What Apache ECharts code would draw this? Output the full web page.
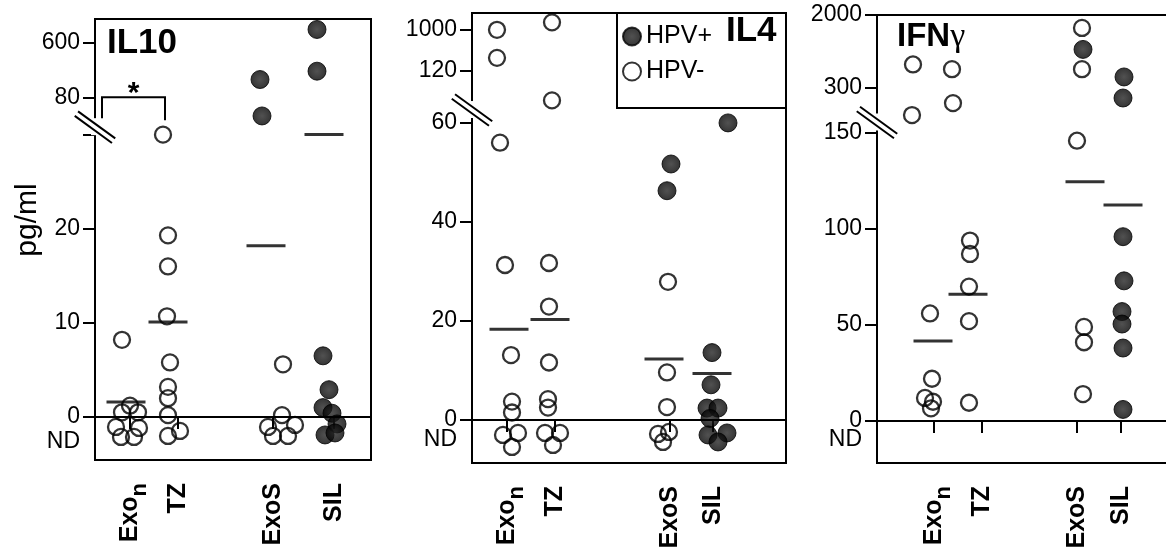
<!DOCTYPE html>
<html><head><meta charset="utf-8">
<script src="https://cdn.jsdelivr.net/npm/echarts@6/dist/echarts.min.js"></script>
<style>html,body{margin:0;padding:0;background:#fff}#c{width:1166px;height:557px}</style>
</head><body><div id="c"></div>
<script>
// ================= DATA (pg/ml; 'ND' = not detected) =================
const ND = 'ND';
const groups = ['Exon', 'TZ', 'ExoS', 'SIL'];

// IL10
const IL10_ticks = [0, 10, 20, 30, 80, 600];
const IL10_tickLabels = ['0', '10', '20', '', '80', '600'];
const IL10_Exon_neg = [8.2, 1.2, 0.5, 0.5, ND, ND, ND, ND];
const IL10_TZ_neg = [30, 19.3, 16, 10.7, 5.8, 3.2, 2.0, 0.2, ND, ND];
const IL10_ExoS_neg = [5.6, 0.2, ND, ND, ND, ND];
const IL10_ExoS_pos = [250, 55];
const IL10_SIL_pos = [730, 330, 6.5, 2.9, 1.0, 0.4, ND, ND, ND];
const IL10_means = [1.6, 10.1, 18.2, 30.2];

// IL4
const IL4_ticks = [0, 20, 40, 60, 120, 1000];
const IL4_tickLabels = ['0', '20', '40', '60', '120', '1000'];
const IL4_Exon_neg = [1000, 400, 56, 31.3, 13.1, 3.7, 1.5, ND, ND, ND];
const IL4_TZ_neg = [1160, 86, 31.7, 22.9, 11.6, 4.2, 2.5, ND, ND, ND];
const IL4_ExoS_neg = [27.9, 9.6, 2.6, ND, ND, ND];
const IL4_ExoS_pos = [51.7, 46.3];
const IL4_SIL_pos = [60, 13.6, 7.1, 2.4, 2.4, 0.3, ND, ND, ND];
const IL4_means = [18.3, 20.3, 12.3, 9.4];

// IFN-gamma
const IFN_ticks = [0, 50, 100, 150, 300, 2000];
const IFN_tickLabels = ['0', '50', '100', '150', '300', '2000'];
const IFN_Exon_neg = [850, 210, 56, 22, 12, 10, 6.6];
const IFN_TZ_neg = [740, 250, 94, 87, 70, 52, 9.5];
const IFN_ExoS_neg = [1700, 740, 146, 49, 41, 14];
const IFN_ExoS_pos = [1200];
const IFN_SIL_pos = [560, 267, 96, 73, 57, 50.5, 38, 6];
const IFN_means = [41.7, 66, 124.6, 112.5];

// ================= LAYOUT (beeswarm offsets in px: [dx, dy]) =================
const IL10_Exon_neg_off = [[-8,0],[0,0],[-8,0],[8,0],[-14,-5],[9,-4],[-9,5],[4,5]];
const IL10_TZ_neg_off = [[-15,0],[-10,0],[-10,0],[-11,0],[-8,0],[-10,0],[-10,0],[-10,0],[-10,4],[2,-1]];
const IL10_ExoS_neg_off = [[10,0],[9,0],[-5,-5],[22,-7],[0,4],[15,4]];
const IL10_ExoS_pos_off = [[-13,0],[-11,0]];
const IL10_SIL_pos_off = [[-17,0],[-17,0],[-11,0],[-5,0],[-11,0],[-2,0],[3,-8],[-9,3],[1,1]];
const IL10_mean_dx = [-4, -10, -7, -10];

const IL4_Exon_neg_off = [[-10,0],[-10,0],[-7,0],[-2,0],[4,0],[5,0],[5,0],[-4,-4],[11,-6],[5,8]];
const IL4_TZ_neg_off = [[-3,0],[-3,0],[-6,0],[-6,0],[-6,0],[-7,0],[-7,0],[-10,-6],[5,-6],[-2,6]];
const IL4_ExoS_neg_off = [[-2,0],[-3,0],[-3,0],[-12,-5],[-1,-7],[-7,3]];
const IL4_ExoS_pos_off = [[1,0],[-3,0]];
const IL4_SIL_pos_off = [[15,0],[-1,0],[-2,0],[-6,0],[5,0],[-3,0],[-5,-4],[14,-6],[5,3]];
const IL4_mean_dx = [2, -5, -6, -1];

const IFN_Exon_neg_off = [[-21,0],[-22,0],[-4,0],[-2,0],[-9,0],[-1,0],[-3,0]];
const IFN_TZ_neg_off = [[-30,0],[-29,0],[-12,0],[-12,0],[-13,0],[-13,0],[-13,0]];
const IFN_ExoS_neg_off = [[5,0],[5,0],[0,0],[7,0],[7,0],[6,0]];
const IFN_ExoS_pos_off = [[6,0]];
const IFN_SIL_pos_off = [[3,0],[2,0],[2,0],[3,0],[1,0],[1,0],[2,0],[2,0]];
const IFN_mean_dx = [-1, -14, 8, 2];

const FONT = '"Liberation Sans", Arial, Helvetica, sans-serif';

const panels = [
  { grid: {left: 95, top: 19, width: 276, height: 441}, cats: [35, 83, 178, 239],
    yMin: -4.6, yMax: 42.57, anchors: [[30, 30.2], [80, 34.2], [600, 40]], nd: -1.6, ndLabel: -2.68, breakD: 31.0,
    ticks: IL10_ticks, tickLabels: IL10_tickLabels,
    neg: [[IL10_Exon_neg, IL10_Exon_neg_off], [IL10_TZ_neg, IL10_TZ_neg_off], [IL10_ExoS_neg, IL10_ExoS_neg_off], [[], []]],
    pos: [[[], []], [[], []], [IL10_ExoS_pos, IL10_ExoS_pos_off], [IL10_SIL_pos, IL10_SIL_pos_off]],
    means: IL10_means, meanDx: IL10_mean_dx, bracket: true },
  { grid: {left: 472, top: 13, width: 314, height: 450}, cats: [35, 83, 198, 241],
    yMin: -8.7, yMax: 82.2, anchors: [[60, 60], [120, 70.5], [1000, 78.8]], nd: -3.84, ndLabel: -4.0, breakD: 62.6,
    ticks: IL4_ticks, tickLabels: IL4_tickLabels,
    neg: [[IL4_Exon_neg, IL4_Exon_neg_off], [IL4_TZ_neg, IL4_TZ_neg_off], [IL4_ExoS_neg, IL4_ExoS_neg_off], [[], []]],
    pos: [[[], []], [[], []], [IL4_ExoS_pos, IL4_ExoS_pos_off], [IL4_SIL_pos, IL4_SIL_pos_off]],
    means: IL4_means, meanDx: IL4_mean_dx },
  { grid: {left: 877, top: 15, width: 300, height: 448}, cats: [57, 105, 200, 244],
    yMin: -21.9, yMax: 211.5, anchors: [[150, 150], [300, 173.4], [2000, 211.5]], nd: -10, ndLabel: -9.9, breakD: 155.5,
    ticks: IFN_ticks, tickLabels: IFN_tickLabels,
    neg: [[IFN_Exon_neg, IFN_Exon_neg_off], [IFN_TZ_neg, IFN_TZ_neg_off], [IFN_ExoS_neg, IFN_ExoS_neg_off], [[], []]],
    pos: [[[], []], [[], []], [IFN_ExoS_pos, IFN_ExoS_pos_off], [IFN_SIL_pos, IFN_SIL_pos_off]],
    means: IFN_means, meanDx: IFN_mean_dx }
];

// broken-axis scale: linear below first anchor, piecewise linear above
function makeScale(anchors, ndPos) {
  return function (v) {
    if (v === ND) return ndPos;
    if (v <= anchors[0][0]) return v * anchors[0][1] / anchors[0][0];
    for (let i = 1; i < anchors.length; i++) {
      if (v <= anchors[i][0] || i === anchors.length - 1) {
        const [v0, d0] = anchors[i - 1], [v1, d1] = anchors[i];
        return d0 + (v - v0) / (v1 - v0) * (d1 - d0);
      }
    }
  };
}

const openStyle = {color: 'rgba(0,0,0,0)', borderColor: '#000', borderWidth: 2.3};
const filledStyle = {
  color: {type: 'radial', x: 0.5, y: 0.5, r: 0.5, colorStops: [
    {offset: 0, color: '#262626'}, {offset: 0.5, color: '#141414'}, {offset: 1, color: '#000'}]},
  borderColor: '#000', borderWidth: 1
};

const grids = [], xAxes = [], yAxes = [], series = [];

panels.forEach((p, i) => {
  const sc = makeScale(p.anchors, p.nd);
  const ppu = p.grid.height / (p.yMax - p.yMin);
  grids.push(Object.assign({show: true, borderColor: '#000', borderWidth: 2, backgroundColor: 'transparent', outerBoundsMode: 'none', containLabel: false}, p.grid));
  const labelVals = [], labelMap = [];
  p.ticks.forEach((t, k) => { if (p.tickLabels[k] !== '') { labelVals.push(sc(t)); labelMap.push([sc(t), p.tickLabels[k]]); } });
  labelVals.push(p.ndLabel); labelMap.push([p.ndLabel, 'ND']);
  yAxes.push({
    type: 'value', gridIndex: i, min: p.yMin, max: p.yMax,
    axisLine: {show: false}, splitLine: {show: false},
    axisTick: {show: true, customValues: p.ticks.map(sc), length: 12, lineStyle: {color: '#000', width: 2}},
    axisLabel: {show: true, customValues: labelVals, margin: 15, color: '#000', fontSize: 23, fontFamily: FONT,
      formatter: (val) => { const m = labelMap.find(e => Math.abs(e[0] - val) < 1e-4); return m ? m[1] : ''; }}
  });
  xAxes.push({
    type: 'value', gridIndex: i, min: 0, max: p.grid.width,
    axisLine: {show: false}, splitLine: {show: false},
    axisTick: {show: true, customValues: p.cats, length: 12, lineStyle: {color: '#000', width: 2}},
    axisLabel: {show: true, customValues: p.cats, rotate: 90, margin: 23, color: '#000',
      formatter: (val) => { const k = p.cats.findIndex(c => Math.abs(c - val) < 1e-4); if (k < 0) return '';
        return groups[k] === 'Exon' ? '{a|Exo}{b|n}' : '{a|' + groups[k] + '}'; },
      rich: {
        a: {fontSize: 25, fontWeight: 'bold', fontFamily: FONT, color: '#000', lineHeight: 25, verticalAlign: 'top'},
        b: {fontSize: 22, fontWeight: 'bold', fontFamily: FONT, color: '#000', lineHeight: 22, verticalAlign: 'top', padding: [11, 0, 0, 0]}
      }}
  });
  const build = (cols) => {
    const out = [];
    cols.forEach((col, c) => {
      const vals = col[0], offs = col[1];
      vals.forEach((v, j) => out.push([p.cats[c] + offs[j][0], sc(v) - offs[j][1] / ppu]));
    });
    return out;
  };
  series.push({type: 'scatter', name: 'HPV-', xAxisIndex: i, yAxisIndex: i, symbol: 'circle', symbolSize: 16,
    itemStyle: openStyle, data: build(p.neg), z: 3, silent: true});
  series.push({type: 'scatter', name: 'HPV+', xAxisIndex: i, yAxisIndex: i, symbol: 'circle', symbolSize: 18,
    itemStyle: filledStyle, data: build(p.pos), z: 3, silent: true});
  series.push({type: 'scatter', name: 'mean', xAxisIndex: i, yAxisIndex: i, symbol: 'rect', symbolSize: [39, 3],
    itemStyle: {color: '#000'}, data: p.means.map((m, c) => [p.cats[c] + p.meanDx[c], sc(m)]), z: 5, silent: true,
    markLine: {silent: true, symbol: 'none', label: {show: false}, lineStyle: {color: '#000', width: 2, type: 'solid'},
      data: [{yAxis: 0}], animation: false}});
  // axis break mark
  series.push({type: 'custom', xAxisIndex: i, yAxisIndex: i, clip: false, z: 6, silent: true,
    data: [[0, p.breakD]],
    renderItem: (params, api) => {
      const pt = api.coord([api.value(0), api.value(1)]);
      const a = 36 * Math.PI / 180, L = 23, s = 2.8;
      const ux = Math.cos(a), uy = Math.sin(a), nx = -uy, ny = ux;
      const ln = (o) => ({type: 'line', shape: {x1: pt[0] - ux * L + nx * o, y1: pt[1] - uy * L + ny * o,
        x2: pt[0] + ux * L + nx * o, y2: pt[1] + uy * L + ny * o}, style: {stroke: '#000', lineWidth: 2}});
      return {type: 'group', children: [
        {type: 'rect', shape: {x: pt[0] - 4, y: pt[1] - 9, width: 8, height: 17}, style: {fill: '#fff'}},
        ln(-s), ln(s)]};
    }});
  if (p.bracket) {
    series.push({type: 'custom', xAxisIndex: i, yAxisIndex: i, clip: false, z: 6, silent: true,
      data: [[p.cats[0] - 28, p.cats[1] - 13, sc(80)]],
      renderItem: (params, api) => {
        const l = api.coord([api.value(0), api.value(2)]), r = api.coord([api.value(1), api.value(2)]);
        return {type: 'group', children: [
          {type: 'polyline', shape: {points: [[l[0], l[1] + 21], [l[0], l[1]], [r[0], r[1]], [r[0], r[1] + 23]]},
            style: {stroke: '#000', lineWidth: 2, fill: null}},
          {type: 'text', style: {text: '*', x: (l[0] + r[0]) / 2, y: l[1] - 4, font: 'bold 30px ' + FONT,
            fill: '#000', align: 'center', verticalAlign: 'middle'}}]};
      }});
  }
});

const chart = echarts.init(document.getElementById('c'), null, {renderer: 'canvas'});
chart.setOption({
  animation: false,
  backgroundColor: '#fff',
  grid: grids, xAxis: xAxes, yAxis: yAxes, series: series,
  legend: {data: ['HPV+', 'HPV-'], orient: 'vertical', left: 617, top: 19, padding: 5, itemGap: 10,
    itemWidth: 18, itemHeight: 18, selectedMode: false,
    textStyle: {fontSize: 25, fontFamily: FONT, color: '#000', lineHeight: 24}},
  graphic: [
    {type: 'rect', shape: {x: 617, y: 13, width: 169, height: 95}, style: {fill: 'none', stroke: '#000', lineWidth: 2}, z: 10},
    {type: 'text', x: 107, y: 43.5, style: {text: 'IL10', font: 'bold 35px ' + FONT, fill: '#000', verticalAlign: 'middle'}},
    {type: 'text', x: 726, y: 31.5, style: {text: 'IL4', font: 'bold 35px ' + FONT, fill: '#000', verticalAlign: 'middle'}},
    {type: 'text', x: 897, y: 37, style: {text: '{a|IFN}{b|γ}', verticalAlign: 'middle',
      rich: {a: {font: 'bold 33px ' + FONT, fill: '#000'}, b: {font: '34px "Liberation Serif", serif', fill: '#000'}}}},
    {type: 'text', x: 28, y: 220, rotation: Math.PI / 2, style: {text: 'pg/ml', font: '30px ' + FONT, fill: '#000', align: 'center', verticalAlign: 'middle'}}
  ]
});
</script></body></html>
